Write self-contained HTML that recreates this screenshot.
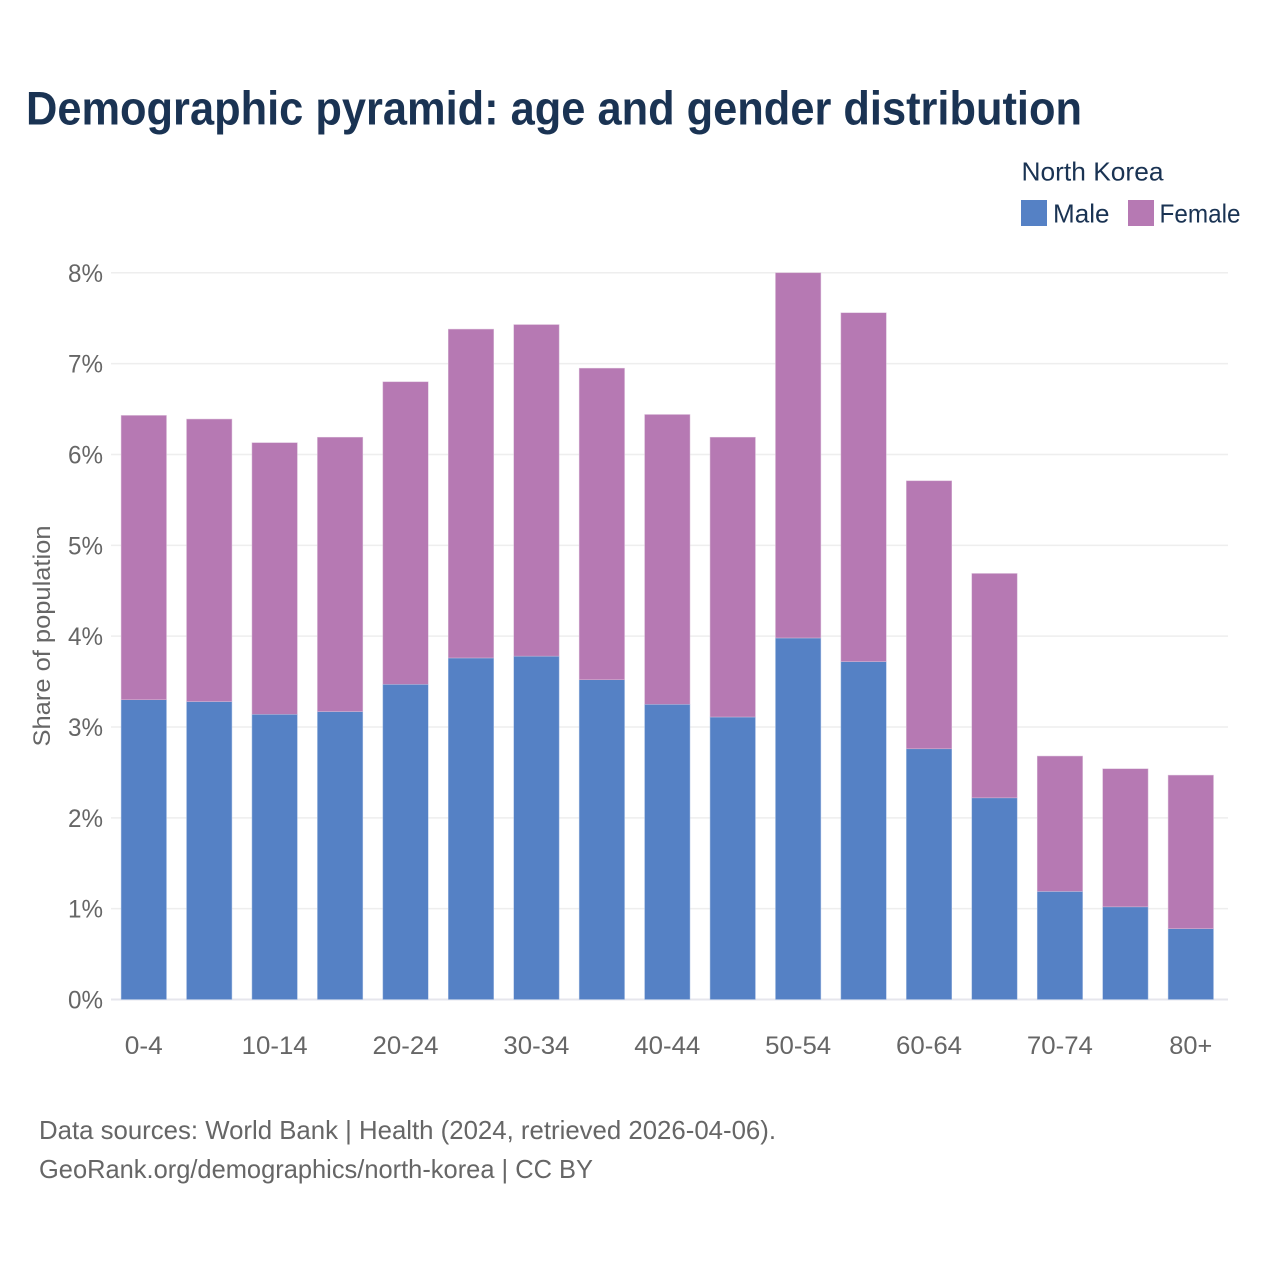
<!DOCTYPE html>
<html lang="en">
<head>
<meta charset="utf-8">
<title>Demographic pyramid</title>
<style>
html,body{margin:0;padding:0;background:#fff;width:1280px;height:1280px;overflow:hidden}
svg{display:block}
text{font-family:"Liberation Sans",sans-serif}
</style>
</head>
<body>
<svg id="chart" width="1280" height="1280" viewBox="0 0 1280 1280" xmlns="http://www.w3.org/2000/svg">
  <rect x="0" y="0" width="1280" height="1280" fill="#ffffff"/>
  <text x="26" y="124.5" font-size="47" font-weight="700" fill="#1a3353" textLength="1056" lengthAdjust="spacingAndGlyphs">Demographic pyramid: age and gender distribution</text>
  <text x="1021.5" y="180.5" font-size="26" fill="#1a3353" textLength="142" lengthAdjust="spacingAndGlyphs">North Korea</text>
  <rect x="1021" y="200" width="26" height="26" fill="#5581c5"/>
  <text x="1053" y="222.5" font-size="26" fill="#1a3353" textLength="56.5" lengthAdjust="spacingAndGlyphs">Male</text>
  <rect x="1128" y="200" width="26" height="26" fill="#b679b3"/>
  <text x="1159.5" y="222.5" font-size="26" fill="#1a3353" textLength="81" lengthAdjust="spacingAndGlyphs">Female</text>
  <g id="grid"></g>
  <g id="bars"></g>
  <g id="yticks"></g>
  <g id="xticks"></g>
  <text transform="translate(50,636) rotate(-90)" text-anchor="middle" font-size="24" fill="#666666" textLength="221" lengthAdjust="spacingAndGlyphs">Share of population</text>
  <text x="39" y="1139" font-size="26" fill="#666666" textLength="737" lengthAdjust="spacingAndGlyphs">Data sources: World Bank | Health (2024, retrieved 2026-04-06).</text>
  <text x="39" y="1178" font-size="26" fill="#666666" textLength="554" lengthAdjust="spacingAndGlyphs">GeoRank.org/demographics/north-korea | CC BY</text>
</svg>
<script>
const categories = ["0-4","5-9","10-14","15-19","20-24","25-29","30-34","35-39","40-44","45-49","50-54","55-59","60-64","65-69","70-74","75-79","80+"];
const maleShare = [3.30,3.28,3.14,3.17,3.47,3.76,3.78,3.52,3.25,3.11,3.98,3.72,2.76,2.22,1.19,1.02,0.78];
const femaleShare = [3.13,3.11,2.99,3.02,3.33,3.62,3.65,3.43,3.19,3.08,4.02,3.84,2.95,2.47,1.49,1.52,1.69];
const yTickValues = [0,1,2,3,4,5,6,7,8];
const xTickLabels = ["0-4","","10-14","","20-24","","30-34","","40-44","","50-54","","60-64","","70-74","","80+"];

const NS = "http://www.w3.org/2000/svg";
const plotLeft = 111, plotRight = 1228, yBase = 999.5, yTop = 272.8, yMax = 8;
const firstCenter = 143.8, lastCenter = 1190.8, barWidth = 45.4;
function yScale(v){ return yBase - (v / yMax) * (yBase - yTop); }
function xScale(i){ return firstCenter + i * (lastCenter - firstCenter) / (categories.length - 1); }
function make(tag, attrs, parent){
  const el = document.createElementNS(NS, tag);
  for (const k in attrs) el.setAttribute(k, attrs[k]);
  parent.appendChild(el);
  return el;
}
const grid = document.getElementById("grid");
const yticks = document.getElementById("yticks");
const xticks = document.getElementById("xticks");
const bars = document.getElementById("bars");

yTickValues.forEach(function(v){
  const line = make("line", {x1: plotLeft, x2: plotRight, y1: yScale(v), y2: yScale(v), stroke: v === 0 ? "#e6e6ec" : "#eeeeee", "stroke-width": v === 0 ? 2 : 1.5}, grid);
  
  
  const t = make("text", {x: 103, y: yScale(v) + 9, "text-anchor": "end", "font-size": 25, fill: "#666666", textLength: 35, lengthAdjust: "spacingAndGlyphs"}, yticks);
  
  
  t.textContent = v + "%";
});

categories.forEach(function(c, i){
  const male = maleShare[i], female = femaleShare[i];
  const x = xScale(i) - barWidth / 2;
  const m = make("rect", {x: x, y: yScale(male), width: barWidth, height: yBase - yScale(male), fill: "#5581c5", stroke: "#a9c0e4", "stroke-width": 0.5}, bars);
  
  
  const f = make("rect", {x: x, y: yScale(male + female), width: barWidth, height: yScale(male) - yScale(male + female), fill: "#b679b3", stroke: "#d9bcd8", "stroke-width": 0.5}, bars);
  
  
  if (xTickLabels[i]) {
    const t = make("text", {x: xScale(i), y: 1054, "text-anchor": "middle", "font-size": 25, fill: "#666666"}, xticks);
    
    
    t.setAttribute('textLength', xTickLabels[i].length === 3 ? (xTickLabels[i] === "0-4" ? 38 : 43) : 66);
    t.setAttribute('lengthAdjust', 'spacingAndGlyphs');
    t.textContent = xTickLabels[i];
  }
});
</script>
</body>
</html>
